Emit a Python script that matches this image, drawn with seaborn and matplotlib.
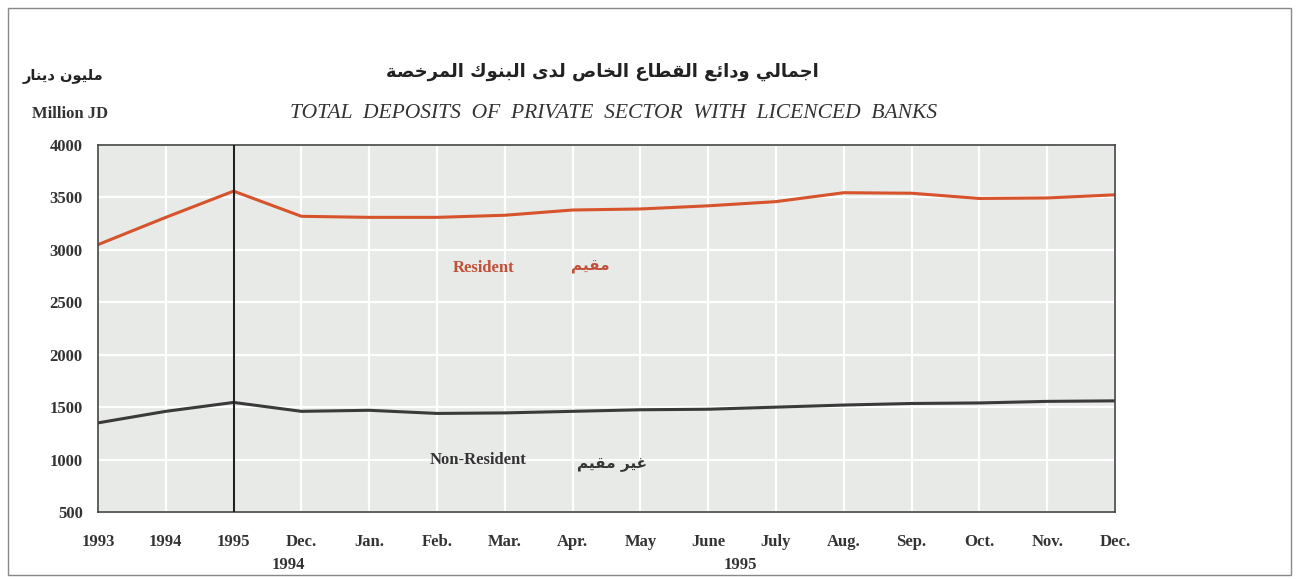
import matplotlib
matplotlib.use('Agg')
import matplotlib.pyplot as plt
import pandas as pd
import seaborn as sns

# --- data ---
periods = ['1993', '1994', '1995', 'Dec.', 'Jan.', 'Feb.', 'Mar.', 'Apr.', 'May',
           'June', 'July', 'Aug.', 'Sep.', 'Oct.', 'Nov.', 'Dec.']
resident = [3050, 3310, 3560, 3320, 3310, 3310, 3330, 3380, 3390,
            3420, 3460, 3545, 3540, 3490, 3495, 3525]
non_resident = [1350, 1460, 1545, 1460, 1470, 1440, 1445, 1460, 1475,
                1480, 1500, 1520, 1535, 1540, 1555, 1560]
y_ticks = [500, 1000, 1500, 2000, 2500, 3000, 3500, 4000]

title_ar = 'اجمالي ودائع القطاع الخاص لدى البنوك المرخصة'
title_en = 'TOTAL  DEPOSITS  OF  PRIVATE  SECTOR  WITH  LICENCED  BANKS'
unit_ar = 'مليون دينار'
unit_en = 'Million JD'
res_ar = 'مقيم'
nonres_ar = 'غير مقيم'

# matplotlib does not shape arabic, so pick presentation forms by hand
# (iso, final, initial, medial); None = letter does not join to the next one
FORMS = {
    'ا': ('\uFE8D', '\uFE8E', None, None),
    'ب': ('\uFE8F', '\uFE90', '\uFE91', '\uFE92'),
    'ة': ('\uFE93', '\uFE94', None, None),
    'ج': ('\uFE9D', '\uFE9E', '\uFE9F', '\uFEA0'),
    'خ': ('\uFEA5', '\uFEA6', '\uFEA7', '\uFEA8'),
    'د': ('\uFEA9', '\uFEAA', None, None),
    'ر': ('\uFEAD', '\uFEAE', None, None),
    'ص': ('\uFEB9', '\uFEBA', '\uFEBB', '\uFEBC'),
    'ط': ('\uFEC1', '\uFEC2', '\uFEC3', '\uFEC4'),
    'ع': ('\uFEC9', '\uFECA', '\uFECB', '\uFECC'),
    'غ': ('\uFECD', '\uFECE', '\uFECF', '\uFED0'),
    'ق': ('\uFED5', '\uFED6', '\uFED7', '\uFED8'),
    'ك': ('\uFED9', '\uFEDA', '\uFEDB', '\uFEDC'),
    'ل': ('\uFEDD', '\uFEDE', '\uFEDF', '\uFEE0'),
    'م': ('\uFEE1', '\uFEE2', '\uFEE3', '\uFEE4'),
    'ن': ('\uFEE5', '\uFEE6', '\uFEE7', '\uFEE8'),
    'و': ('\uFEED', '\uFEEE', None, None),
    'ى': ('\uFEEF', '\uFEF0', None, None),
    'ي': ('\uFEF1', '\uFEF2', '\uFEF3', '\uFEF4'),
    'ئ': ('\uFE89', '\uFE8A', '\uFE8B', '\uFE8C'),
}

def shape(text):
    out = []
    for i, c in enumerate(text):
        if c not in FORMS:
            out.append(c)
            continue
        prev = text[i-1] if i > 0 else ''
        nxt = text[i+1] if i+1 < len(text) else ''
        jp = prev in FORMS and FORMS[prev][2] is not None
        jn = nxt in FORMS and FORMS[c][2] is not None
        iso, fin, ini, med = FORMS[c]
        if jp and jn:
            out.append(med)
        elif jp:
            out.append(fin)
        elif jn:
            out.append(ini)
        else:
            out.append(iso)
    return ''.join(reversed(out))

df = pd.DataFrame({
    'x': list(range(len(periods))) * 2,
    'value': resident + non_resident,
    'series': ['Resident'] * len(periods) + ['Non-Resident'] * len(periods),
})

sns.set_theme(style='whitegrid', rc={
    'axes.facecolor': '#e7eae6',
    'grid.color': 'white',
    'grid.linewidth': 1.6,
    'axes.edgecolor': '#444444',
    'axes.linewidth': 1.2,
})
serif = 'Liberation Serif'
arab = 'DejaVu Sans'

W, H = 1297, 579
fig = plt.figure(figsize=(W/100, H/100), dpi=100)
ax = fig.add_axes([98/W, (H-512)/H, 1017/W, 367/H])

sns.lineplot(data=df, x='x', y='value', hue='series',
             palette={'Resident': '#d6532c', 'Non-Resident': '#3a3a3a'},
             linewidth=2.2, legend=False, ax=ax)

ax.axvline(2, color='#222222', linewidth=1.5, zorder=5)

ax.set_xlim(0, len(periods) - 1)
ax.set_ylim(500, 4000)
ax.set_xticks(range(len(periods)))
ax.set_xticklabels(periods, fontfamily=serif, fontweight='bold', fontsize=12, color='#333333')
ax.set_yticks(y_ticks)
ax.set_yticklabels([str(v) for v in y_ticks], fontfamily=serif, fontweight='bold',
                   fontsize=12, color='#333333')
ax.tick_params(axis='x', pad=16, length=0)
ax.tick_params(axis='y', pad=11, length=0)
ax.set_xlabel('')
ax.set_ylabel('')

# year under the month rows
ax.text(2.8, -0.145, '1994', transform=ax.get_xaxis_transform(), ha='center', va='center',
        fontfamily=serif, fontweight='bold', fontsize=12, color='#333333')
ax.text(9.47, -0.145, '1995', transform=ax.get_xaxis_transform(), ha='center', va='center',
        fontfamily=serif, fontweight='bold', fontsize=12, color='#333333')

# series labels
ax.text(5.68, 2830, 'Resident', ha='center', va='center', fontfamily=serif,
        fontweight='bold', fontsize=12, color='#c0503a')
ax.text(7.26, 2840, shape(res_ar), ha='center', va='center', fontfamily=arab,
        fontweight='bold', fontsize=11, color='#c0503a')
ax.text(5.6, 1000, 'Non-Resident', ha='center', va='center', fontfamily=serif,
        fontweight='bold', fontsize=12, color='#333333')
ax.text(7.58, 955, shape(nonres_ar), ha='center', va='center', fontfamily=arab,
        fontweight='bold', fontsize=11, color='#333333')

# titles
fig.text(602/W, 1 - 72/H, shape(title_ar), ha='center', va='center', fontfamily=arab,
         fontweight='bold', fontsize=13, color='#222222')
fig.text(614/W, 1 - 113/H, title_en, ha='center', va='center', fontfamily=serif,
         fontstyle='italic', fontsize=15.5, color='#333333')
fig.text(63/W, 1 - 76/H, shape(unit_ar), ha='center', va='center', fontfamily=arab,
         fontweight='bold', fontsize=10.5, color='#222222')
fig.text(70/W, 1 - 114/H, unit_en, ha='center', va='center', fontfamily=serif,
         fontweight='bold', fontsize=12, color='#333333')

# outer frame of the page
fig.patches.append(plt.Rectangle((8/W, 4/H), (W-14)/W, (H-12)/H, transform=fig.transFigure,
                                 fill=False, edgecolor='#888888', linewidth=1))

fig.savefig('out.png', dpi=100)
